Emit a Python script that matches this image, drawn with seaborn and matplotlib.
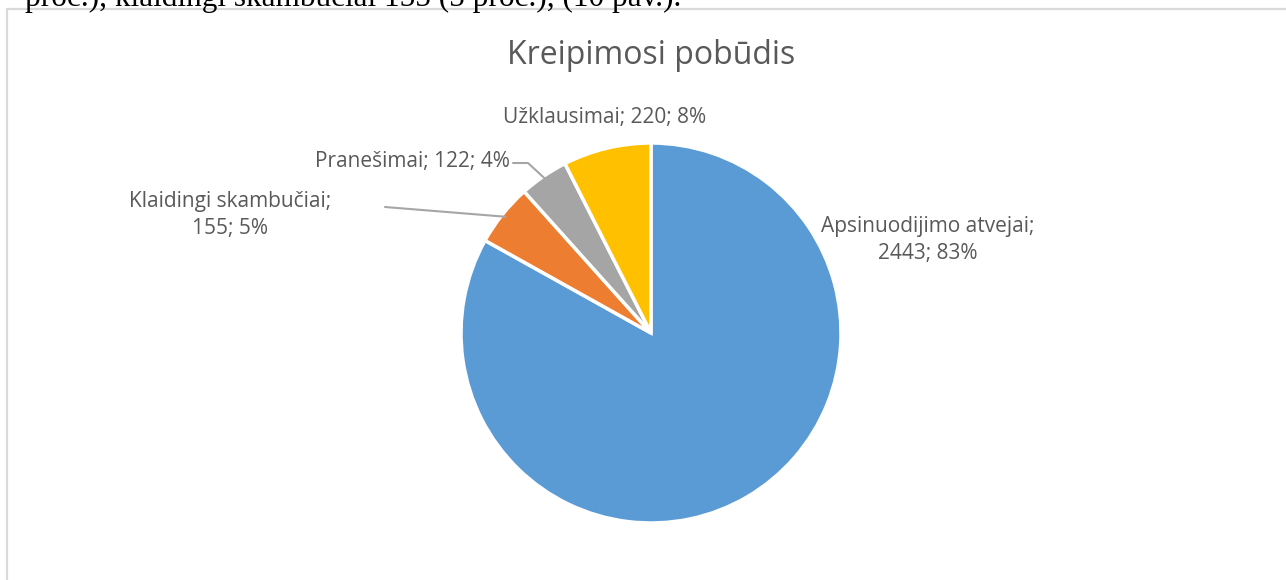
import numpy as np
import matplotlib
matplotlib.use("Agg")
import matplotlib.pyplot as plt
import seaborn as sns
from matplotlib.patches import Rectangle

# data
categories = ["Apsinuodijimo atvejai", "Klaidingi skambučiai", "Pranešimai", "Užklausimai"]
counts = [2443, 155, 122, 220]
percents = ["83%", "5%", "4%", "8%"]
colors = ["#5b9bd5", "#ed7d31", "#a5a5a5", "#ffc000"]

sns.set_theme(style="white")
plt.rcParams['font.family'] = ['Open Sans', 'DejaVu Sans']

W, H = 1286, 580
fig = plt.figure(figsize=(W / 100, H / 100), dpi=100)
ax = fig.add_axes([0, 0, 1, 1])

# chart frame
ax.add_patch(Rectangle((7, -10), W, H - 9 + 10, fill=False, edgecolor="#d9d9d9", lw=1.6))

# clipped document text above the chart
ax.text(25, H - 6, "proc.), klaidingi skambučiai 155 (5 proc.), (10 pav.).",
        family="Liberation Serif", fontsize=22.5, color="black", va="baseline", ha="left")

cx, cy, r = 651, H - 333, 190
wedges, _ = ax.pie(counts, colors=colors, startangle=90, counterclock=False,
                   center=(cx, cy), radius=r, frame=True,
                   wedgeprops=dict(edgecolor="white", linewidth=2.5))
ax.set_xlim(0, W)
ax.set_ylim(0, H)
ax.set_aspect("equal")
ax.axis("off")

ax.text(cx, H - 55, "Kreipimosi pobūdis", ha="center", va="center",
        fontsize=23, color="#595959")

lab_col = "#595959"
fs = 15
ax.text(928, H - 240, f"{categories[0]};\n{counts[0]}; {percents[0]}", ha="center", va="center",
        fontsize=fs, color=lab_col, linespacing=1.4)
ax.text(230, H - 215, f"{categories[1]};\n{counts[1]}; {percents[1]}", ha="center", va="center",
        fontsize=fs, color=lab_col, linespacing=1.4)
ax.text(510, H - 162, f"{categories[2]}; {counts[2]}; {percents[2]}", ha="right", va="center",
        fontsize=fs, color=lab_col)
ax.text(605, H - 118, f"{categories[3]}; {counts[3]}; {percents[3]}", ha="center", va="center",
        fontsize=fs, color=lab_col)

# leader lines from wedge edges
def edge_point(w, frac=1.0):
    ang = np.deg2rad((w.theta1 + w.theta2) / 2)
    return cx + r * frac * np.cos(ang), cy + r * frac * np.sin(ang)

ex, ey = edge_point(wedges[1], 0.98)
ax.plot([385, ex], [H - 207, ey], color="#a6a6a6", lw=1.5)
ex, ey = edge_point(wedges[2], 0.98)
ax.plot([513, 528, ex], [H - 163, H - 163, ey], color="#a6a6a6", lw=1.5)

fig.savefig("out.png", dpi=100)
